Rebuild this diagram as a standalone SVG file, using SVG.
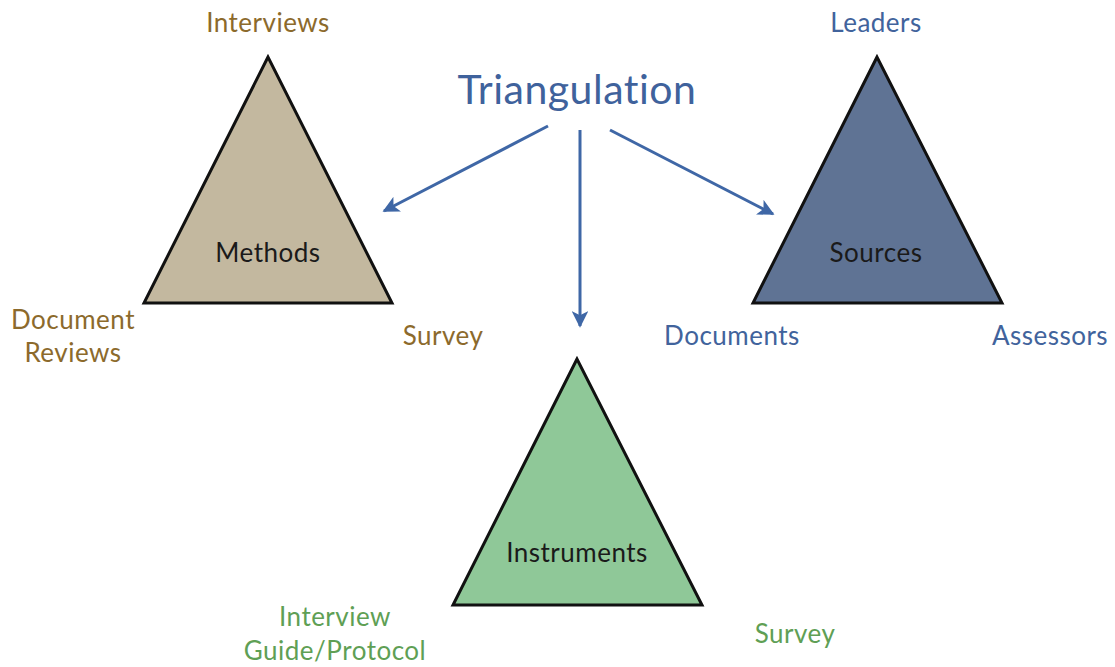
<svg xmlns="http://www.w3.org/2000/svg" width="1115" height="667" viewBox="0 0 1115 667">
<style>
text{font-family:"Lato","Open Sans","Liberation Sans",sans-serif;text-anchor:middle;letter-spacing:0.5px}
.tri{stroke:#111;stroke-width:3;stroke-linejoin:miter}
.lbl{font-size:26px;fill:#1a1a1a}
.brown{font-size:26px;fill:#8c6a2c}
.blue{font-size:26px;fill:#41639c}
.green{font-size:26px;fill:#5f9f55}
.title{font-size:41px;fill:#3f629c}
.conn{stroke:#3f67a6;stroke-width:3;fill:none;marker-end:url(#ah)}
</style>
<defs>
<marker id="ah" viewBox="0 0 10 10" refX="9" refY="5" markerWidth="5.5" markerHeight="5.5" orient="auto" markerUnits="strokeWidth">
<path d="M0,0 L10,5 L0,10 L2.5,5 Z" fill="#3f67a6"/>
</marker>
</defs>
<rect width="1115" height="667" fill="#ffffff"/>
<g id="title"><text class="title" x="577" y="104">Triangulation</text></g>
<g id="connectors">
<line class="conn" x1="548" y1="126" x2="384" y2="211"/>
<line class="conn" x1="580" y1="130" x2="580" y2="326"/>
<line class="conn" x1="610" y1="130" x2="773" y2="214"/>
</g>
<g id="methods">
<polygon class="tri" points="268,57 144,303 392,303" fill="#c3b89f"/>
<text class="lbl" x="268" y="262">Methods</text>
<text class="brown" x="268" y="32">Interviews</text>
<text class="brown" x="73" y="329">Document</text>
<text class="brown" x="73" y="362">Reviews</text>
<text class="brown" x="443" y="345">Survey</text>
</g>
<g id="sources">
<polygon class="tri" points="877,57 753,303 1002,303" fill="#5f7394"/>
<text class="lbl" x="876" y="262">Sources</text>
<text class="blue" x="876" y="32">Leaders</text>
<text class="blue" x="732" y="345">Documents</text>
<text class="blue" x="1050" y="345">Assessors</text>
</g>
<g id="instruments">
<polygon class="tri" points="577,359 453,605 702,605" fill="#8fc898"/>
<text class="lbl" x="577" y="562">Instruments</text>
<text class="green" x="335" y="626">Interview</text>
<text class="green" x="335" y="660">Guide/Protocol</text>
<text class="green" x="795" y="643">Survey</text>
</g>
</svg>
